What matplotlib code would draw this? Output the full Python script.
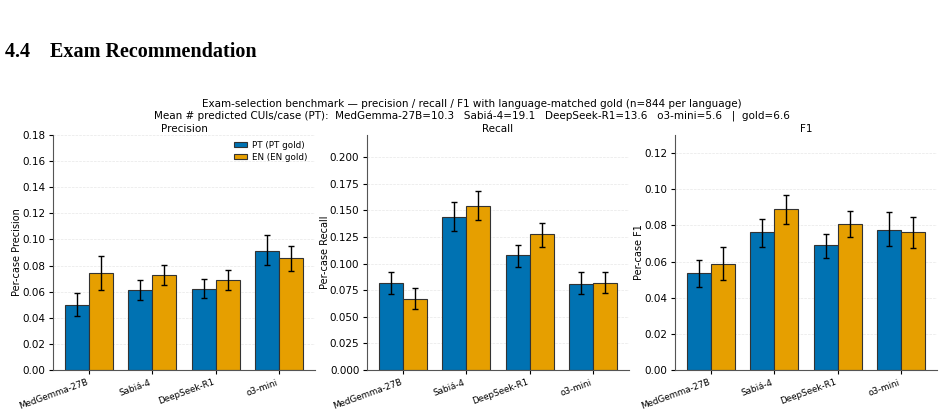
import matplotlib
matplotlib.use("Agg")
import matplotlib.pyplot as plt
import numpy as np

models = ["MedGemma-27B", "Sabiá-4", "DeepSeek-R1", "o3-mini"]
series = ["PT (PT gold)", "EN (EN gold)"]
colors = ["#0072B2", "#E69F00"]

prec_pt = [0.0499, 0.0612, 0.0620, 0.0914]
prec_pt_lo = [0.0417, 0.0535, 0.0548, 0.0804]
prec_pt_hi = [0.0586, 0.0691, 0.0694, 0.1032]
prec_en = [0.0743, 0.0725, 0.0689, 0.0858]
prec_en_lo = [0.0612, 0.0648, 0.0615, 0.0755]
prec_en_hi = [0.0873, 0.0804, 0.0768, 0.0947]

rec_pt = [0.0819, 0.1438, 0.1078, 0.0809]
rec_pt_lo = [0.0713, 0.1306, 0.0972, 0.0713]
rec_pt_hi = [0.0919, 0.1581, 0.1178, 0.0919]
rec_en = [0.0669, 0.1544, 0.1278, 0.0822]
rec_en_lo = [0.0572, 0.1406, 0.1159, 0.0725]
rec_en_hi = [0.0772, 0.1681, 0.1384, 0.0922]

f1_pt = [0.0535, 0.0761, 0.0691, 0.0774]
f1_pt_lo = [0.0458, 0.0681, 0.0620, 0.0685]
f1_pt_hi = [0.0609, 0.0835, 0.0755, 0.0872]
f1_en = [0.0585, 0.0888, 0.0805, 0.0763]
f1_en_lo = [0.0497, 0.0805, 0.0737, 0.0676]
f1_en_hi = [0.0680, 0.0968, 0.0881, 0.0846]

panels = [
    ("Precision", "Per-case Precision", (prec_pt, prec_pt_lo, prec_pt_hi), (prec_en, prec_en_lo, prec_en_hi), 0.18),
    ("Recall", "Per-case Recall", (rec_pt, rec_pt_lo, rec_pt_hi), (rec_en, rec_en_lo, rec_en_hi), 0.221),
    ("F1", "Per-case F1", (f1_pt, f1_pt_lo, f1_pt_hi), (f1_en, f1_en_lo, f1_en_hi), 0.130),
]

fig = plt.figure(figsize=(9.43, 4.13), dpi=100)
fig.text(0.005, 0.874, "4.4    Exam Recommendation", family="Liberation Serif",
         fontweight="bold", fontsize=14.5, va="center", ha="left")
fig.text(0.5, 0.748, "Exam-selection benchmark — precision / recall / F1 with language-matched gold (n=844 per language)",
         ha="center", va="center", fontsize=7.5)
fig.text(0.5, 0.718, "Mean # predicted CUIs/case (PT):  MedGemma-27B=10.3   Sabiá-4=19.1   DeepSeek-R1=13.6   o3-mini=5.6   |  gold=6.6",
         ha="center", va="center", fontsize=7.5)

lefts = [53, 367, 675]
width_px = 262
bottom_px, top_px = 370, 135
W, H = 943, 413
x = np.arange(len(models))
bw = 0.38
for i, (title, ylab, pt, en, ymax) in enumerate(panels):
    ax = fig.add_axes([lefts[i] / W, 1 - bottom_px / H, width_px / W, (bottom_px - top_px) / H])
    for j, (vals, c, lab) in enumerate([(pt, colors[0], series[0]), (en, colors[1], series[1])]):
        m, lo, hi = (np.array(v) for v in vals)
        off = (j - 0.5) * bw
        ax.bar(x + off, m, bw, color=c, edgecolor="#333333", linewidth=0.8, label=lab, zorder=2)
        ax.errorbar(x + off, m, yerr=[m - lo, hi - m], fmt="none", ecolor="black",
                    elinewidth=1.0, capsize=2.5, capthick=1.0, zorder=3)
    ax.set_ylim(0, ymax)
    ax.set_title(title, fontsize=7.5, pad=2)
    ax.set_ylabel(ylab, fontsize=7, labelpad=0)
    ax.set_xticks(x)
    ax.set_xticklabels(models, rotation=20, ha="right", fontsize=6.3)
    ax.tick_params(axis="y", labelsize=7.5, length=3, pad=2.5)
    ax.tick_params(axis="x", length=3, pad=2.5)
    ax.grid(axis="y", linestyle="--", linewidth=0.5, alpha=0.3, zorder=0)
    ax.spines["top"].set_visible(False)
    ax.spines["right"].set_visible(False)
    for s in ("left", "bottom"):
        ax.spines[s].set_color("#555555")
    if i == 0:
        ax.legend(loc="upper right", fontsize=6.3, frameon=False, labelspacing=0.35,
                  handlelength=1.5, handleheight=0.6, handletextpad=0.5,
                  bbox_to_anchor=(1.0, 1.01))

fig.savefig("out.png", dpi=100)
